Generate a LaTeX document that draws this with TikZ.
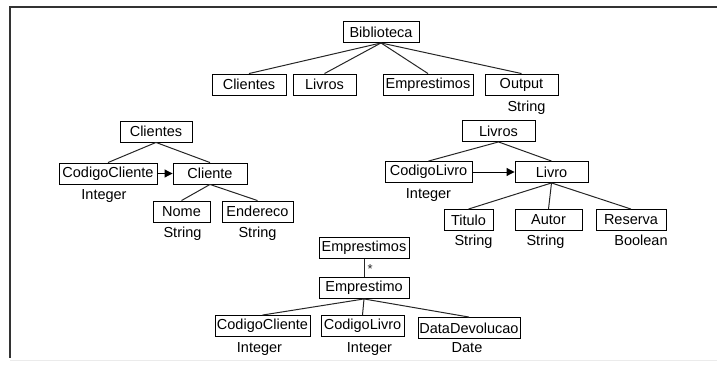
\documentclass[tikz,border=0pt]{standalone}
\usepackage{fontspec}
\setmainfont{Liberation Sans}
\usetikzlibrary{positioning,arrows.meta}

\tikzset{
	classbox/.style={draw, line width=0.9pt, minimum height=21pt, inner sep=0pt, font=\fontsize{14.5}{16}\selectfont},
	typetext/.style={inner sep=0pt, text height=10pt, text depth=3pt, font=\fontsize{14.5}{16}\selectfont},
	link/.style={line width=1pt, color=black!85},
	keyarrow/.style={line width=1pt, -{Triangle[length=8pt,width=8pt]}}
}

\begin{document}
\begin{tikzpicture}[x=1pt, y=-1pt]
		%%%%% START %%%%%
		\useasboundingbox (0, 0) rectangle (717, 364);
		
		\draw[line width=1.6pt, color=black!80] (717, 7) -- (10, 7) -- (10, 358);
		\draw[line width=1pt, color=black!8] (10, 360) -- (717, 360);
		
		\node[classbox, minimum width=76pt] (bib) at (381, 32) {Biblioteca};
		
		\node[classbox, minimum width=74pt] (cli) at (249, 84.5) {Clientes};
		\node[classbox, minimum width=63pt] (liv) at (324.5, 84.5) {Livros};
		\node[classbox, minimum width=90pt] (emp) at (428, 84.5) {Emprestimos};
		\node[classbox, minimum width=73pt] (out) at (521.5, 84.5) {Output};
		\node[typetext, below=6pt of out, xshift=5pt] (outtype) {String};
		
		\draw[link] (bib.south) -- (cli.north);
		\draw[link] (bib.south) -- (liv.north);
		\draw[link] (bib.south) -- (emp.north);
		\draw[link] (bib.south) -- (out.north);
		
		%% clientes
		\node[classbox, minimum width=72pt] (clis) at (156, 131.5) {Clientes};
		\node[classbox, minimum width=98pt] (codcli) at (108, 173.5) {CodigoCliente};
		\node[classbox, minimum width=74pt] (cliente) at (210, 173.5) {Cliente};
		\node[typetext, below=5pt of codcli, xshift=-4pt] (codclitype) {Integer};
		\node[classbox, minimum width=57pt] (nome) at (181.5, 211.5) {Nome};
		\node[classbox, minimum width=71pt] (ender) at (257.5, 211.5) {Endereco};
		\node[typetext, below=5pt of nome, xshift=1pt] (nometype) {String};
		\node[typetext, below=5pt of ender] (endertype) {String};
		
		\draw[link] (clis.south) -- (codcli.north);
		\draw[link] (clis.south) -- (cliente.north);
		\draw[keyarrow] (codcli) -- (cliente);
		\draw[link] (cliente.south) -- (nome.north);
		\draw[link] (cliente.south) -- (ender.north);
		
		%% livros
		\node[classbox, minimum width=73pt] (livs) at (498.5, 131) {Livros};
		\node[classbox, minimum width=87pt] (codliv) at (428.5, 172) {CodigoLivro};
		\node[classbox, minimum width=73pt] (livro) at (551.5, 172) {Livro};
		\node[typetext, below=5pt of codliv] (codlivtype) {Integer};
		\node[classbox, minimum width=49pt] (titulo) at (468.5, 220) {Titulo};
		\node[classbox, minimum width=67pt] (autor) at (548.5, 220) {Autor};
		\node[classbox, minimum width=70pt] (reserva) at (631, 220) {Reserva};
		\node[typetext, below=4pt of titulo, xshift=5pt] (titulotype) {String};
		\node[typetext, below=4pt of autor, xshift=-3pt] (autortype) {String};
		\node[typetext, below=4pt of reserva, xshift=10pt] (reservatype) {Boolean};
		
		\draw[link] (livs.south) -- (codliv.north);
		\draw[link] (livs.south) -- (livro.north);
		\draw[keyarrow] (codliv) -- (livro);
		\draw[link] (livro.south) -- (titulo.north);
		\draw[link] (livro.south) -- (autor.north);
		\draw[link] (livro.south) -- (reserva.north);
		
		%% emprestimos
		\node[classbox, minimum width=90pt] (emps) at (364, 248) {Emprestimos};
		\node[classbox, minimum width=90pt] (emprest) at (364, 288) {Emprestimo};
		\node[classbox, minimum width=95pt] (ecodcli) at (262.5, 326) {CodigoCliente};
		\node[classbox, minimum width=83pt] (ecodliv) at (362.5, 326) {CodigoLivro};
		\node[classbox, minimum width=102pt] (datadev) at (469, 328) {DataDevolucao};
		\node[typetext, below=5pt of ecodcli, xshift=-3pt] (ecodclitype) {Integer};
		\node[typetext, below=5pt of ecodliv, xshift=7pt] (ecodlivtype) {Integer};
		\node[typetext, below=3pt of datadev, xshift=-2pt] (datadevtype) {Date};
		
		\draw[link] (emps) -- node[right=3pt, yshift=-1pt, inner sep=0pt, font=\fontsize{13}{13}\selectfont] {*} (emprest);
		\draw[link] (emprest.south) -- (ecodcli.north);
		\draw[link] (emprest.south) -- (ecodliv.north);
		\draw[link] (emprest.south) -- (datadev.north);
		
		%%%%% END %%%%%
	\end{tikzpicture}
\end{document}
